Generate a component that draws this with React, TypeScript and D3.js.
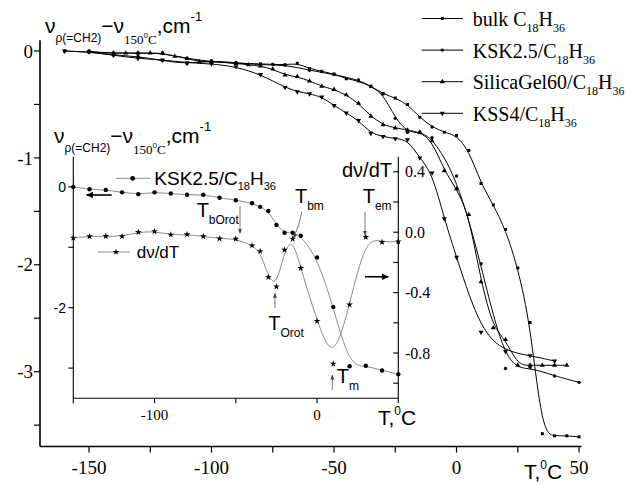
import React from 'react';
import * as d3 from 'd3';

const W = 626, H = 484;

// ---- main chart data (T, °C ; shift, cm-1) ----
const bulkT = [-160,-150,-140,-130,-120,-110,-100,-90,-80,-75,-70,-65,-60,-55,-50,-45,-40,-35,-30,-25,-20,-15,-10,-5,0,5,10,15,20,25,30,35,40,45,50];
const bulkV = [0,-0.01,-0.02,-0.02,-0.02,-0.07,-0.10,-0.115,-0.12,-0.125,-0.13,-0.115,-0.165,-0.19,-0.215,-0.26,-0.28,-0.33,-0.40,-0.44,-0.50,-0.62,-0.71,-0.76,-0.79,-0.93,-1.24,-1.44,-1.67,-2.03,-2.54,-3.58,-3.60,-3.60,-3.61];

const kskT = [-150,-140,-130,-120,-110,-100,-90,-80,-70,-60,-50,-40,-35,-30,-25,-20,-15,-10,0,10,20,30,40,50];
const kskV = [0,-0.04,-0.05,-0.09,-0.12,-0.09,-0.11,-0.13,-0.13,-0.18,-0.22,-0.27,-0.33,-0.40,-0.63,-0.76,-0.76,-0.81,-1.17,-1.99,-2.97,-2.96,-3.04,-3.10];

const sgT = [-150,-140,-135,-130,-125,-120,-115,-110,-105,-100,-90,-85,-80,-75,-70,-65,-60,-55,-50,-45,-40,-35,-30,-25,-20,-15,-10,-5,0,5,10,15,20,25,30,35,40,45];
const sgV = [-0.006,-0.02,-0.02,-0.02,-0.02,-0.02,-0.05,-0.07,-0.10,-0.10,-0.115,-0.13,-0.14,-0.17,-0.225,-0.24,-0.28,-0.33,-0.36,-0.41,-0.49,-0.61,-0.69,-0.72,-0.74,-0.76,-0.84,-1.12,-1.29,-1.53,-2.16,-2.59,-2.70,-2.94,-2.94,-2.94,-2.94,-2.94];

const kssT = [-160,-150,-140,-130,-120,-110,-100,-90,-80,-70,-65,-60,-55,-50,-45,-40,-35,-30,-25,-20,-15,-10,-5,0,10,20,30,40];
const kssV = [0,-0.01,-0.04,-0.07,-0.084,-0.11,-0.12,-0.147,-0.22,-0.34,-0.38,-0.40,-0.43,-0.51,-0.58,-0.65,-0.77,-0.80,-0.82,-0.83,-1.0,-1.14,-1.57,-1.93,-2.63,-2.81,-2.85,-2.90];

// ---- inset data (KSK2.5 and its derivative) ----
const dvdtV = [-0.037,-0.028,-0.026,-0.028,0.0,0.005,-0.017,-0.015,-0.028,-0.042,-0.044,-0.088,-0.126,-0.298,-0.36,-0.117,-0.044,-0.238,-0.589,-0.872,-0.48,-0.033,-0.066,-0.062];

// tick values
const mainXTicks = [-150,-125,-100,-75,-50,-25,0,25,50];
const mainXLabels = [-150,-100,-50,0,50];
const mainYTicks = [-3.5,-3,-2.5,-2,-1.5,-1,-0.5,0];
const mainYLabels = [-3,-2,-1,0];
const insXTicks = [-150,-100,-50,0,50];
const insXLabels = [-100,0];
const insLTicks = [-3,-2,-1,0];
const insLLabels = [-2,0];
const insRTicks = [-1.0,-0.8,-0.6,-0.4,-0.2,0,0.2,0.4];
const insRLabels = [-0.8,-0.4,0,0.4];

const legendNames = ['bulk', 'KSK2.5/', 'SilicaGel60/', 'KSS4/'];

const SANS = 'Liberation Sans, Arial, sans-serif';
const SERIF = 'Liberation Serif, Times New Roman, serif';

export default function App() {
  const x = d3.scaleLinear().domain([-170, 51]).range([40, 581.5]);
  const y = d3.scaleLinear().domain([-3.7, 0.1]).range([446.5, 40.3]);

  const ix = d3.scaleLinear().domain([-150, 50]).range([73.3, 398.3]);
  const iyL = d3.scaleLinear().domain([-3.5, 0.5]).range([398.3, 156.7]);
  const iyR = d3.scaleLinear().domain([-1.1, 0.5]).range([398.3, 156.7]);

  const series = [
    { T: bulkT, V: bulkV, sym: d3.symbolSquare, size: 9 },
    { T: kskT, V: kskV, sym: d3.symbolCircle, size: 9 },
    { T: sgT, V: sgV, sym: d3.symbolTriangle, size: 11, rot: 0 },
    { T: kssT, V: kssV, sym: d3.symbolTriangle, size: 11, rot: 180 },
  ];

  const lineMain = d3.line<[number, number]>().x(d => x(d[0])).y(d => y(d[1])).curve(d3.curveBasis);
  const lineL = d3.line<[number, number]>().x(d => ix(d[0])).y(d => iyL(d[1])).curve(d3.curveBasis);
  const lineR = d3.line<[number, number]>().x(d => ix(d[0])).y(d => iyR(d[1])).curve(d3.curveBasis);

  const zip = (T: number[], V: number[]) => T.map((t, i) => [t, V[i]] as [number, number]);

  const legendY = (i: number) => 18.5 + i * 31.6;

  const star = d3.symbol().type(d3.symbolStar).size(14)() as string;
  const circ = d3.symbol().type(d3.symbolCircle).size(18)() as string;

  // annotations in inset data coordinates (x: T, y: right axis)
  const annots = [
    { sub: 'bOrot', lx: -74.1, ly: 0.103, ax: -47.4, y1: 0.174, y2: -0.007 },
    { sub: 'Orot', lx: -30, ly: -0.648, ax: -25.9, y1: -0.502, y2: -0.405 },
    { sub: 'em', lx: 28.1, ly: 0.191, ax: 29.5, y1: 0.136, y2: -0.019 },
    { sub: 'm', lx: 12.1, ly: -1.0, ax: 9.4, y1: -1.045, y2: -0.946 },
  ];

  return (
    <svg width={W} height={H} style={{ display: 'block', position: 'absolute', left: 0, top: 0, background: '#fff' }}>
      <defs>
        <marker id="ah" viewBox="0 0 10 10" refX="9" refY="5" markerWidth="5" markerHeight="6" markerUnits="userSpaceOnUse" orient="auto">
          <path d="M0,1 L10,5 L0,9 z" fill="#444" />
        </marker>
        <marker id="ahB" viewBox="0 0 10 10" refX="9" refY="5" markerWidth="8" markerHeight="7" markerUnits="userSpaceOnUse" orient="auto">
          <path d="M0,0.5 L10,5 L0,9.5 z" fill="#000" />
        </marker>
      </defs>
      <rect width={W} height={H} fill="#fff" />

      {/* ---------- main axes ---------- */}
      <line x1={x(-170)} x2={x(51)} y1={y(-3.7)} y2={y(-3.7)} stroke="#000" strokeWidth={1.6} />
      <line x1={x(-170)} x2={x(-170)} y1={y(-3.7)} y2={y(0.1)} stroke="#000" strokeWidth={1.6} />
      {mainXTicks.map(t => (
        <line key={'xt' + t} x1={x(t)} x2={x(t)} y1={y(-3.7)} y2={y(-3.7) + 6} stroke="#000" strokeWidth={1.2} />
      ))}
      {mainXLabels.map(t => (
        <text key={'xl' + t} x={x(t)} y={474} textAnchor="middle" fontFamily={SERIF} fontSize={19}>{String(t)}</text>
      ))}
      {mainYTicks.map(v => (
        <line key={'yt' + v} x1={x(-170) - 6} x2={x(-170)} y1={y(v)} y2={y(v)} stroke="#000" strokeWidth={1.2} />
      ))}
      {mainYLabels.map(v => (
        <text key={'yl' + v} x={33} y={y(v)} dy="0.35em" textAnchor="end" fontFamily={SERIF} fontSize={19}>{String(v)}</text>
      ))}
      <text x={524} y={479} fontFamily={SANS} fontSize={21}>T,<tspan fontSize={12} dy={-10}>0</tspan><tspan dy={10}>C</tspan></text>

      <text x={45} y={33} fontFamily={SANS} fontSize={21}>ν<tspan fontSize={12} dy={9}>ρ(=CH2)</tspan><tspan dy={-9}>−ν</tspan><tspan fontSize={13} fontFamily={SERIF} dy={11}>150</tspan><tspan fontSize={8} dy={-6}>0</tspan><tspan fontSize={13} fontFamily={SERIF} dy={6}>C</tspan><tspan dy={-11}>,cm</tspan><tspan fontSize={13} dy={-12}>-1</tspan></text>

      {/* ---------- main series ---------- */}
      {series.map((s, k) => {
        const pts = zip(s.T, s.V);
        const sym = d3.symbol().type(s.sym).size(s.size)() as string;
        return (
          <g key={'s' + k}>
            <path d={lineMain(pts) as string} fill="none" stroke="#000" strokeWidth={1} />
            {pts.map((p, i) => (
              <path key={i} d={sym} transform={`translate(${x(p[0])},${y(p[1])}) rotate(${s.rot || 0})`} fill="#000" />
            ))}
          </g>
        );
      })}

      {/* ---------- main legend ---------- */}
      {series.map((s, k) => {
        const sym = d3.symbol().type(s.sym).size(s.size)() as string;
        const ly = legendY(k);
        return (
          <g key={'lg' + k}>
            <line x1={421.7} x2={463} y1={ly} y2={ly} stroke="#000" strokeWidth={1} />
            <path d={sym} transform={`translate(442.3,${ly}) rotate(${s.rot || 0})`} fill="#000" />
            <text x={472.7} y={ly + 7.5} fontFamily={SERIF} fontSize={20}>
              {legendNames[k] + (k === 0 ? ' C' : 'C')}
              <tspan fontSize={12} dy={6}>18</tspan><tspan dy={-6}>H</tspan><tspan fontSize={12} dy={6}>36</tspan>
            </text>
          </g>
        );
      })}

      {/* ---------- inset axes ---------- */}
      <g stroke="#000" strokeWidth={1.1}>
        <line x1={ix(-150)} x2={ix(-150)} y1={iyL(-3.5)} y2={iyL(0.5)} />
        <line x1={ix(-150)} x2={ix(50)} y1={iyL(-3.5)} y2={iyL(-3.5)} />
        <line x1={ix(50)} x2={ix(50)} y1={iyL(-3.5)} y2={iyL(0.5)} />
        {insXTicks.map(t => <line key={'ixt' + t} x1={ix(t)} x2={ix(t)} y1={iyL(-3.5)} y2={iyL(-3.5) + 5} />)}
        {insLTicks.map(v => <line key={'ilt' + v} x1={ix(-150) - 5} x2={ix(-150)} y1={iyL(v)} y2={iyL(v)} />)}
        {insRTicks.map(v => <line key={'irt' + v} x1={ix(50) - 5} x2={ix(50)} y1={iyR(v)} y2={iyR(v)} />)}
      </g>
      {insXLabels.map(t => (
        <text key={'ixl' + t} x={ix(t)} y={420} textAnchor="middle" fontFamily={SERIF} fontSize={15}>{String(t)}</text>
      ))}
      {insLLabels.map(v => (
        <text key={'ill' + v} x={66} y={iyL(v)} dy="0.35em" textAnchor="end" fontFamily={SANS} fontSize={14}>{String(v)}</text>
      ))}
      {insRLabels.map(v => (
        <text key={'irl' + v} x={405} y={iyR(v)} dy="0.35em" fontFamily={SERIF} fontSize={16}>{v.toFixed(1)}</text>
      ))}
      <text x={392} y={177} textAnchor="end" fontFamily={SANS} fontSize={20}>dν/dT</text>
      <text x={378} y={425} fontFamily={SANS} fontSize={21}>T,<tspan fontSize={12} dy={-10}>0</tspan><tspan dy={10}>C</tspan></text>

      <text x={54} y={143} fontFamily={SANS} fontSize={21}>ν<tspan fontSize={12} dy={9}>ρ(=CH2)</tspan><tspan dy={-9}>−ν</tspan><tspan fontSize={13} fontFamily={SERIF} dy={11}>150</tspan><tspan fontSize={8} dy={-6}>0</tspan><tspan fontSize={13} fontFamily={SERIF} dy={6}>C</tspan><tspan dy={-11}>,cm</tspan><tspan fontSize={13} dy={-12}>-1</tspan></text>

      {/* ---------- inset series ---------- */}
      <path d={lineL(zip(kskT, kskV)) as string} fill="none" stroke="#8a8a8a" strokeWidth={1} />
      <path d={lineR(zip(kskT, dvdtV)) as string} fill="none" stroke="#8a8a8a" strokeWidth={1} />
      {kskT.map((t, i) => (
        <circle key={'ic' + i} cx={ix(t)} cy={iyL(kskV[i])} r={2.2} fill="#000" />
      ))}
      {kskT.map((t, i) => (
        <path key={'is' + i} d={star} transform={`translate(${ix(t)},${iyR(dvdtV[i])})`} fill="#000" />
      ))}

      {/* inset legend */}
      <line x1={116} x2={150} y1={178.3} y2={178.3} stroke="#8a8a8a" strokeWidth={1} />
      <path d={circ} transform="translate(132.7,178.3)" fill="#000" />
      <text x={154.3} y={184.5} fontFamily={SANS} fontSize={19}>KSK2.5/C<tspan fontSize={11} dy={5}>18</tspan><tspan dy={-5}>H</tspan><tspan fontSize={11} dy={5}>36</tspan></text>
      <line x1={98} x2={130} y1={252} y2={252} stroke="#8a8a8a" strokeWidth={1} />
      <path d={star} transform="translate(116,252)" fill="#000" />
      <text x={136.7} y={258} fontFamily={SANS} fontSize={17}>dν/dT</text>

      {/* direction arrows */}
      <line x1={ix(-126.4)} x2={ix(-141.8)} y1={iyL(-0.134)} y2={iyL(-0.134)} stroke="#000" strokeWidth={1.6} markerEnd="url(#ahB)" />
      <line x1={ix(29.5)} x2={ix(43.8)} y1={iyR(-0.295)} y2={iyR(-0.295)} stroke="#000" strokeWidth={1.6} markerEnd="url(#ahB)" />

      {/* transition annotations */}
      {annots.map(a => (
        <g key={a.sub}>
          <line x1={ix(a.ax)} x2={ix(a.ax)} y1={iyR(a.y1)} y2={iyR(a.y2)} stroke="#555" strokeWidth={0.8} markerEnd="url(#ah)" />
          <text x={ix(a.lx)} y={iyR(a.ly)} fontFamily={SANS} fontSize={20}>T<tspan fontSize={12} dy={7}>{a.sub}</tspan></text>
        </g>
      ))}
      <path d={`M${ix(-9.4)},${iyR(0.136)} Q${ix(-10.5)},${iyR(0.05)} ${ix(-14.5)},${iyR(-0.04)}`} fill="none" stroke="#555" strokeWidth={0.8} markerEnd="url(#ah)" />
      <text x={ix(-13.6)} y={iyR(0.191)} fontFamily={SANS} fontSize={20}>T<tspan fontSize={12} dy={7}>bm</tspan></text>
    </svg>
  );
}
